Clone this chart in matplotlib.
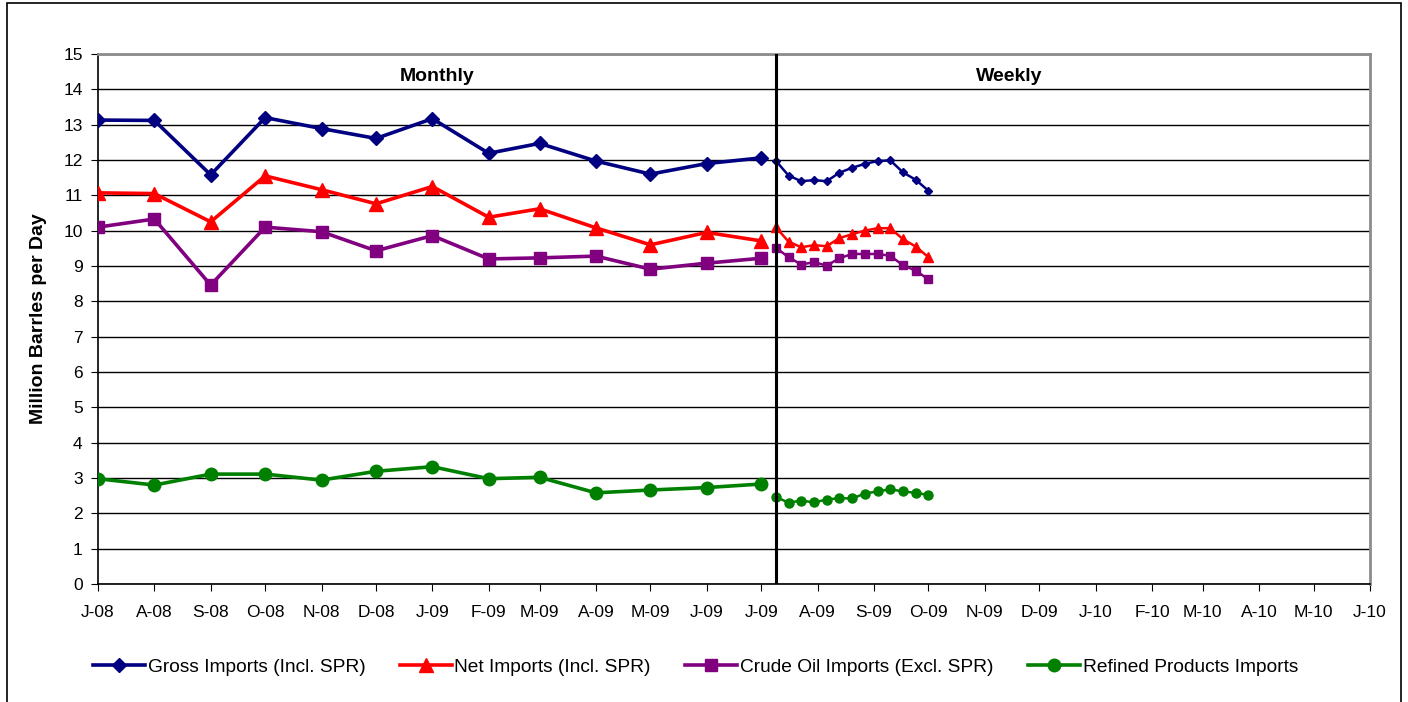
import matplotlib
matplotlib.use('Agg')
import matplotlib.pyplot as plt
import matplotlib.dates as mdates
from matplotlib.ticker import FuncFormatter
from matplotlib.patches import Rectangle
import pandas as pd

plt.rcParams['font.family'] = ['Liberation Sans', 'DejaVu Sans']

# monthly data (first of month), Jul-08 .. Jul-09
monthly_dates = pd.date_range('2008-07-01', '2009-07-01', freq='MS')
gross_m = [13.13, 13.12, 11.58, 13.20, 12.89, 12.61, 13.17, 12.19, 12.47, 11.97, 11.60, 11.90, 12.06]
net_m = [11.07, 11.05, 10.25, 11.55, 11.16, 10.76, 11.25, 10.38, 10.62, 10.08, 9.60, 9.95, 9.71]
crude_m = [10.10, 10.33, 8.46, 10.10, 9.97, 9.43, 9.86, 9.20, 9.23, 9.28, 8.91, 9.08, 9.22]
refined_m = [2.98, 2.80, 3.11, 3.11, 2.94, 3.19, 3.32, 2.98, 3.02, 2.58, 2.66, 2.73, 2.83]

# weekly data, Jul-09 .. Oct-09
weekly_dates = pd.date_range('2009-07-09', '2009-10-01', freq='7D')
gross_w = [11.98, 11.56, 11.40, 11.43, 11.40, 11.64, 11.78, 11.89, 11.97, 11.99, 11.65, 11.44, 11.13]
net_w = [10.10, 9.69, 9.53, 9.59, 9.56, 9.79, 9.90, 10.00, 10.07, 10.07, 9.76, 9.55, 9.25]
crude_w = [9.52, 9.25, 9.04, 9.11, 9.01, 9.22, 9.34, 9.34, 9.34, 9.29, 9.02, 8.87, 8.62]
refined_w = [2.47, 2.30, 2.36, 2.31, 2.39, 2.43, 2.42, 2.56, 2.62, 2.68, 2.62, 2.58, 2.52]

labels = ['Gross Imports (Incl. SPR)', 'Net Imports (Incl. SPR)',
          'Crude Oil Imports (Excl. SPR)', 'Refined Products Imports']
colors = ['#000080', '#FF0000', '#800080', '#008000']
markers = ['D', '^', 's', 'o']
msize_m = [7, 9.5, 9, 9]
msize_w = [4.5, 6.5, 6, 6.5]

fig = plt.figure(figsize=(14.08, 7.02), dpi=100)
ax = fig.add_axes([98 / 1408, 118 / 702, 1272 / 1408, 530 / 702])

monthly = [gross_m, net_m, crude_m, refined_m]
weekly = [gross_w, net_w, crude_w, refined_w]
for i in range(4):
    ax.plot(monthly_dates, monthly[i], color=colors[i], marker=markers[i],
            markersize=msize_m[i], linewidth=2.6, label=labels[i], zorder=3)
    ax.plot(weekly_dates, weekly[i], color=colors[i], marker=markers[i],
            markersize=msize_w[i], linewidth=1.8, zorder=3)

ax.axvline(weekly_dates[0], color='black', linewidth=2.2, zorder=4)

ax.set_xlim(pd.Timestamp('2008-07-01'), pd.Timestamp('2010-06-01'))
ax.set_ylim(0, 15)
ax.set_yticks(range(0, 16))
ax.xaxis.set_major_locator(mdates.MonthLocator())
ax.xaxis.set_major_formatter(FuncFormatter(
    lambda x, pos: mdates.num2date(x).strftime('%b')[0] + '-' + mdates.num2date(x).strftime('%y')))
ax.tick_params(axis='both', labelsize=12.5, length=5, direction='out', color='black')
ax.tick_params(axis='x', pad=10)
ax.tick_params(axis='y', pad=6)

ax.grid(axis='y', color='black', linewidth=1)
ax.set_axisbelow(True)
for s in ['left', 'bottom']:
    ax.spines[s].set_color('black')
    ax.spines[s].set_linewidth(1.2)
for s in ['top', 'right']:
    ax.spines[s].set_color('#8c8c8c')
    ax.spines[s].set_linewidth(2)

ax.set_ylabel('Million Barrles per Day', fontsize=14, fontweight='bold', labelpad=12)

ax.text(0.2665, 0.957, 'Monthly', transform=ax.transAxes, ha='center', va='center',
        fontsize=14, fontweight='bold')
ax.text(0.716, 0.957, 'Weekly', transform=ax.transAxes, ha='center', va='center',
        fontsize=14, fontweight='bold')

fig.legend(loc='center', bbox_to_anchor=(0.494, 0.05), ncol=4, frameon=False,
           fontsize=13.8, handlelength=2.7, handletextpad=0.15, columnspacing=1.8)

# outer chart border
fig.patches.append(Rectangle((7 / 1408, -0.05), 1394 / 1408, 1.05 - 3 / 702,
                             transform=fig.transFigure, fill=False,
                             edgecolor='black', linewidth=1.2))

fig.savefig('out.png', dpi=100)
